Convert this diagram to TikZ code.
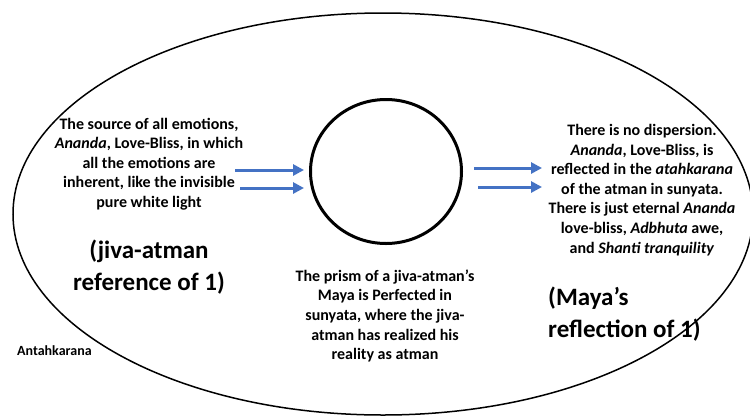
\documentclass[tikz,border=0pt]{standalone}
\usepackage{fontspec}
\setmainfont{Carlito}
\usetikzlibrary{arrows.meta,shapes.geometric}
\definecolor{arrowblue}{HTML}{4472C4}
\tikzset{
  txt/.style={inner sep=0pt, align=center, font=\fontsize{16}{19.6}\selectfont\bfseries},
  bigtxt/.style={inner sep=0pt, font=\fontsize{25}{32}\selectfont\bfseries},
  smalltxt/.style={inner sep=0pt, font=\fontsize{14}{17}\selectfont\bfseries},
  ray/.style={draw=arrowblue, line width=3pt, -{Triangle[length=11pt,width=11pt]}},
  prismshape/.style={draw, ellipse, line width=3pt, inner sep=0pt, minimum width=151pt, minimum height=144pt},
  outer/.style={draw, line width=1.5pt}
}
\begin{document}
\begin{tikzpicture}[x=1pt,y=-1pt]
\clip (0,0) rectangle (750,416);
\fill[white] (0,0) rectangle (750,416);
% outer ellipse (antahkarana)
\draw[outer] (383,214) ellipse [x radius=370pt, y radius=201pt];
% prism
\node[prismshape] (prism) at (386,171.5) {};
% texts
\node[txt] (src) at (149,164) {The source of all emotions,\\\textit{Ananda}, Love-Bliss, in which\\all the emotions are\\inherent, like the invisible\\pure white light};
\node[bigtxt, align=center] (jiva) at (149,267) {(jiva-atman\\reference of 1)};
\node[smalltxt, anchor=west] (ant) at (17,351) {Antahkarana};
\node[txt] (prismtxt) at (385,316) {The prism of a jiva-atman’s\\Maya is Perfected in\\sunyata, where the jiva-\\atman has realized his\\reality as atman};
\node[txt] (refl) at (642,190) {There is no dispersion.\\\textit{Ananda}, Love-Bliss, is\\reflected in the \textit{atahkarana}\\of the atman in sunyata.\\There is just eternal \textit{Ananda}\\love-bliss, \textit{Adbhuta} awe,\\and \textit{Shanti tranquility}};
\node[bigtxt, align=left, anchor=west] (maya) at (548,314) {(Maya’s\\reflection of 1)};
% arrow end points
\coordinate (l1s) at (235,170);
\coordinate (l1e) at (304,170);
\coordinate (l2s) at (240,188);
\coordinate (l2e) at (304,188);
\coordinate (r1s) at (474,168);
\coordinate (r1e) at (542,168);
\coordinate (r2s) at (478,187);
\coordinate (r2e) at (542,187);
\draw[ray] (l1s) -- (l1e);
\draw[ray] (l2s) -- (l2e);
\draw[ray] (r1s) -- (r1e);
\draw[ray] (r2s) -- (r2e);
\end{tikzpicture}
\end{document}
